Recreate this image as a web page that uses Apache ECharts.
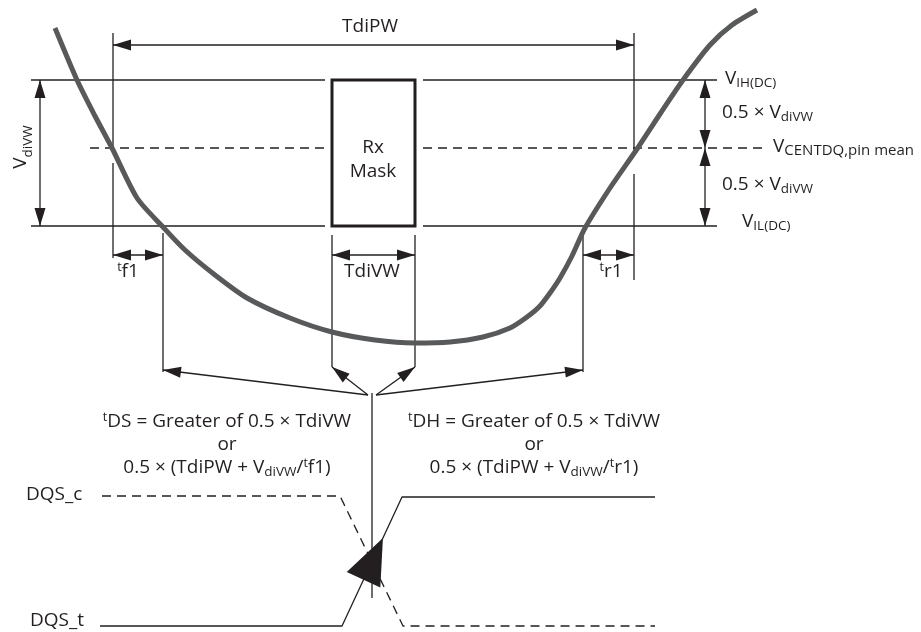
<!DOCTYPE html>
<html><head><meta charset="utf-8">
<script src="https://cdn.jsdelivr.net/npm/echarts@6/dist/echarts.min.js"></script>
<style>html,body{margin:0;padding:0;background:#fff}#c{width:921px;height:632px}</style>
</head><body><div id="c"></div>
<script>
// ---------- data (diagram units: x = time, y = level, top-down) ----------
const waveX = [55, 77, 95, 112, 137, 163, 185, 215, 247, 290, 332, 375, 415, 450, 483, 510, 527, 540, 550, 560, 572, 585, 610, 637, 660, 683, 710, 732, 757];
const waveY = [28, 80, 116, 148, 198, 227, 250, 275, 298, 318, 332, 340, 343, 342, 337, 328, 317, 306, 293, 278, 256, 228, 188, 149, 114, 80, 45, 25, 10];

const dqsTX = [100, 342, 402, 655];
const dqsTY = [626, 626, 497, 497];
const dqsCX = [102, 340, 403, 655];
const dqsCY = [496, 496, 626, 626];

// reference levels and window edges
const solidSegs = [
  [31, 80, 325, 80], [423, 80, 717, 80],
  [31, 226, 325, 226], [423, 226, 717, 226],
  [113, 33, 113, 150], [113, 163, 113, 258],
  [634, 33, 634, 150], [634, 174, 634, 280],
  [163, 233, 163, 372], [583, 235, 583, 372],
  [332, 235, 332, 367], [415, 235, 415, 367],
  [372, 393, 372, 598]
];
const dashSegs = [
  [90, 148, 325, 148], [423, 148, 762, 148]
];
const dimArrows = [
  [113, 45, 634, 45],
  [40, 80, 40, 226],
  [705, 80, 705, 148], [705, 148, 705, 226],
  [113, 255, 163, 255], [332, 255, 415, 255], [583, 255, 634, 255]
];
const pointerArrows = [
  [368, 395, 163, 370], [368, 395, 332, 367],
  [376, 395, 415, 367], [376, 395, 583, 370]
];
const maskBox = [[332, 80, 415, 226]];
const strobeTipY = 538;

const labelTexts = [
  '{n|TdiPW}',
  '{n|Rx}',
  '{n|Mask}',
  '{p|t}{n|f1}',
  '{n|TdiVW}',
  '{p|t}{n|r1}',
  '{n|V}{s|IH(DC)}',
  '{n|0.5 × V}{s|diVW}',
  '{n|V}{w|CENTDQ,pin mean}',
  '{n|0.5 × V}{s|diVW}',
  '{n|V}{s|IL(DC)}',
  '{p|t}{n|DS = Greater of 0.5 × TdiVW}\n{n|or}\n{n|0.5 × (TdiPW + V}{s|diVW}{n|/}{p|t}{n|f1)}',
  '{p|t}{n|DH = Greater of 0.5 × TdiVW}\n{n|or}\n{n|0.5 × (TdiPW + V}{s|diVW}{n|/}{p|t}{n|r1)}',
  '{n|DQS_c}',
  '{n|DQS_t}'
];
const labelX = [370, 373, 373, 128, 372, 611, 725, 722, 773, 722, 742, 227, 534, 26, 30];
const labelY = [27, 148, 172, 272, 272, 272, 79, 113, 147, 185, 222, 445, 445, 495, 621];
const labelAlign = ['center','center','center','center','center','center','left','left','left','left','left','center','center','left','left'];

// vertical window label (reads bottom to top)
const sideMain = 'V';
const sideSub = 'diVW';
const sideX = 20.5;
const sideY = 147;

// ---------- styles ----------
const INK = '#231f20';
const FONT = '"Open Sans", "Noto Sans", sans-serif';
const MAIN_PX = 19, SUB_PX = 13.5;
const RICH = {
  n: {fontSize: MAIN_PX, lineHeight: 23, fontFamily: FONT, fill: INK},
  s: {fontSize: SUB_PX, lineHeight: 8, verticalAlign: 'bottom', fontFamily: FONT, fill: INK},
  w: {fontSize: 15, lineHeight: 8, verticalAlign: 'bottom', fontFamily: FONT, fill: INK},
  p: {fontSize: 12.5, lineHeight: 11, verticalAlign: 'top', fontFamily: FONT, fill: INK}
};
const measureCtx = document.createElement('canvas').getContext('2d');
function textWidth(t, px) { measureCtx.font = px + 'px ' + FONT; return measureCtx.measureText(t).width; }

function head(tip, from, L, W) {
  const dx = tip[0] - from[0], dy = tip[1] - from[1];
  const len = Math.hypot(dx, dy) || 1;
  const ux = dx / len, uy = dy / len;
  const bx = tip[0] - ux * L, by = tip[1] - uy * L;
  return {type: 'polygon', shape: {points: [[tip[0], tip[1]], [bx - uy * W / 2, by + ux * W / 2], [bx + uy * W / 2, by - ux * W / 2]]},
    style: {fill: INK}};
}
function segRender(dash) {
  return function (params, api) {
    const a = api.coord([api.value(0), api.value(1)]);
    const b = api.coord([api.value(2), api.value(3)]);
    return {type: 'line', shape: {x1: a[0], y1: a[1], x2: b[0], y2: b[1]},
      style: {stroke: INK, lineWidth: 1.3, lineDash: dash ? [9, 6] : null}};
  };
}
function arrowRender(both) {
  return function (params, api) {
    const a = api.coord([api.value(0), api.value(1)]);
    const b = api.coord([api.value(2), api.value(3)]);
    const kids = [{type: 'line', shape: {x1: a[0], y1: a[1], x2: b[0], y2: b[1]}, style: {stroke: INK, lineWidth: 1.3}}];
    kids.push(head(b, a, 18, 11));
    if (both) kids.push(head(a, b, 18, 11));
    return {type: 'group', children: kids};
  };
}

const chart = echarts.init(document.getElementById('c'));
chart.setOption({
  animation: false,
  backgroundColor: '#fff',
  grid: {left: 0, right: 0, top: 0, bottom: 0, containLabel: false},
  xAxis: {type: 'value', min: 0, max: 921, show: false},
  yAxis: {type: 'value', min: 0, max: 632, inverse: true, show: false},
  series: [
    {type: 'custom', z: 2, renderItem: segRender(false), data: solidSegs, encode: {x: [0, 2], y: [1, 3]}},
    {type: 'custom', z: 2, renderItem: segRender(true), data: dashSegs, encode: {x: [0, 2], y: [1, 3]}},
    {type: 'custom', z: 3, renderItem: arrowRender(true), data: dimArrows, encode: {x: [0, 2], y: [1, 3]}},
    {type: 'custom', z: 3, renderItem: arrowRender(false), data: pointerArrows, encode: {x: [0, 2], y: [1, 3]}},
    {type: 'custom', z: 3, data: maskBox, encode: {x: [0, 2], y: [1, 3]},
      renderItem: function (params, api) {
        const a = api.coord([api.value(0), api.value(1)]);
        const b = api.coord([api.value(2), api.value(3)]);
        return {type: 'rect', shape: {x: a[0], y: a[1], width: b[0] - a[0], height: b[1] - a[1]},
          style: {fill: 'none', stroke: INK, lineWidth: 3}};
      }},
    {type: 'line', z: 3, symbol: 'none', data: dqsTX.map((x, i) => [x, dqsTY[i]]),
      lineStyle: {color: INK, width: 1.3}},
    {type: 'line', z: 3, symbol: 'none', data: dqsCX.map((x, i) => [x, dqsCY[i]]),
      lineStyle: {color: INK, width: 1.3, type: [9, 6]}},
    {type: 'custom', z: 4, data: [[dqsTX[1], dqsTY[1], dqsTX[2], dqsTY[2]]],
      renderItem: function (params, api) {
        const x0 = api.value(0), y0 = api.value(1), x1 = api.value(2), y1 = api.value(3);
        const t = (strobeTipY - y0) / (y1 - y0);
        const tip = api.coord([x0 + (x1 - x0) * t, strobeTipY]);
        const from = api.coord([x0, y0]);
        return head(tip, from, 46, 37);
      }},
    {type: 'line', z: 5, symbol: 'none', smooth: 0.25, data: waveX.map((x, i) => [x, waveY[i]]),
      lineStyle: {color: '#58595b', width: 5}},
    {type: 'custom', z: 6, data: labelX.map((x, i) => [x, labelY[i]]),
      renderItem: function (params, api) {
        const i = params.dataIndex;
        const p = api.coord([api.value(0), api.value(1)]);
        return {type: 'text', x: p[0], y: p[1],
          style: {text: labelTexts[i], rich: RICH, align: labelAlign[i], verticalAlign: 'middle',
            fill: INK, fontSize: MAIN_PX, fontFamily: FONT}};
      }}
  ]
});

// rotated side label, placed through the grid's own coordinate conversion
const sp = chart.convertToPixel({gridIndex: 0}, [sideX, sideY]);
const wm = textWidth(sideMain, MAIN_PX), ws = textWidth(sideSub, SUB_PX);
const start = -(wm + ws) / 2;
chart.setOption({
  graphic: [
    {type: 'text', x: sp[0], y: sp[1] - start, rotation: Math.PI / 2, z: 10,
      style: {text: sideMain, fontSize: MAIN_PX, fontFamily: FONT, fill: INK, align: 'left', verticalAlign: 'middle'}},
    {type: 'text', x: sp[0] + 7.5, y: sp[1] - (start + wm), rotation: Math.PI / 2, z: 10,
      style: {text: sideSub, fontSize: SUB_PX, fontFamily: FONT, fill: INK, align: 'left', verticalAlign: 'middle'}}
  ]
});
</script>
</body></html>
